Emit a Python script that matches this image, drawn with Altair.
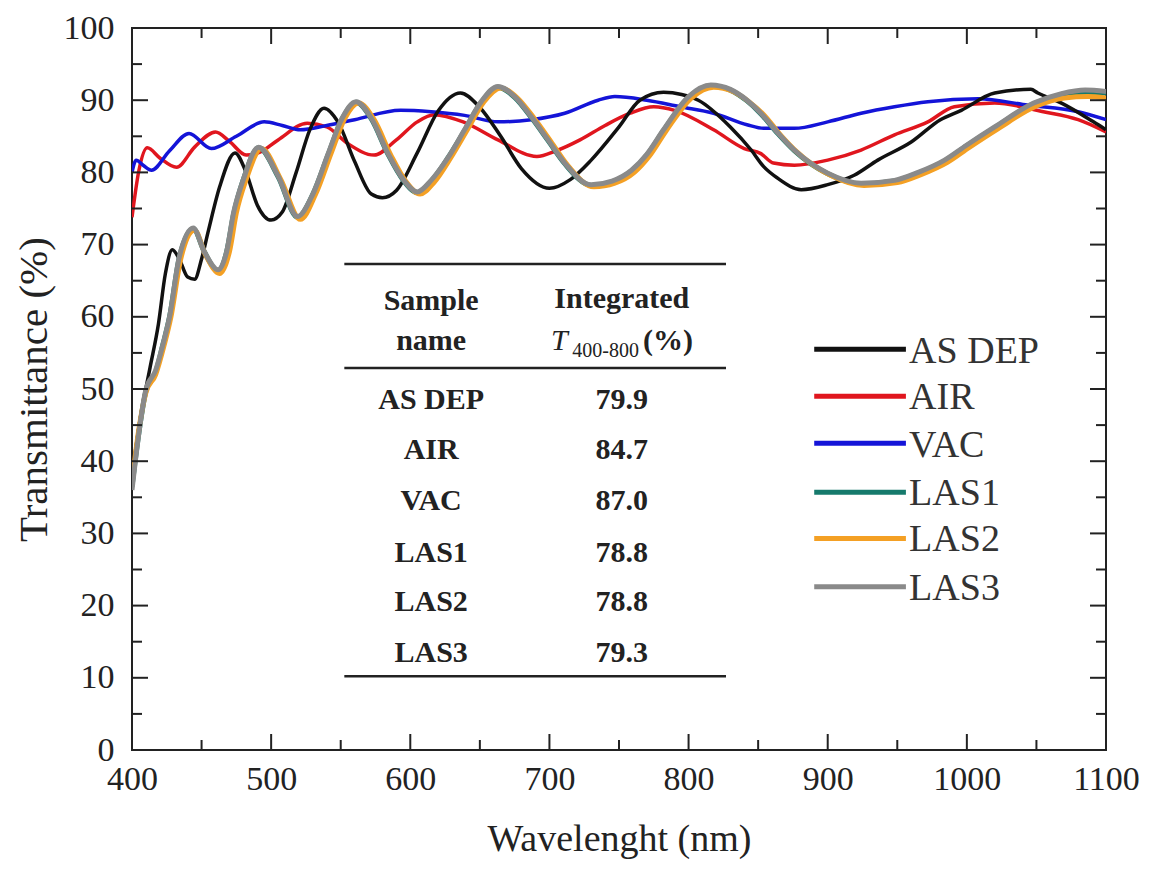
import altair as alt
import pandas as pd

# ---------------- data ----------------
SERIES = ["AS DEP", "AIR", "VAC", "LAS1", "LAS2", "LAS3"]
COLORS = ["#111111", "#e0161e", "#1414d8", "#167a6c", "#f4a024", "#8a8a8a"]

AS_DEP_WL = [400, 406, 413, 419, 424, 429, 434, 440, 445, 450, 455, 463, 474, 482, 490, 500, 508, 518, 528, 538,
             548, 560, 572, 580, 590, 605, 620, 636, 650, 665, 680, 700, 715, 730, 750, 765, 782, 795, 807, 830,
             845, 854, 864, 881, 900, 919, 936, 960, 981, 996, 1020, 1046, 1051, 1068, 1091, 1100]
AS_DEP_T = [38, 46, 53, 59, 66, 69.3, 68, 65.5, 65.2, 68, 72, 78, 82.7, 80, 75.5, 73.4, 74.5, 80, 86, 88.9,
            87, 81.5, 77, 76.5, 77.5, 82.7, 88.5, 91, 89, 85, 80.5, 77.8, 79, 81.7, 86.3, 90, 91.1, 90.8, 90, 86.3,
            83.1, 80.8, 79.2, 77.6, 78.3, 79.6, 81.7, 84.2, 87.3, 88.6, 91, 91.5, 91, 89.6, 87, 85.9]

AIR_WL = [400, 405, 411, 420, 432, 445, 460, 470, 482, 492, 505, 526, 540, 555, 574, 590, 605, 617, 638, 663,
          691, 705, 722, 740, 758, 775, 790, 818, 840, 852, 861, 876, 900, 924, 948, 972, 991, 1020, 1055, 1080, 1100]
AIR_T = [73.8, 80.3, 83.4, 82, 80.7, 83.5, 85.6, 84.3, 82.4, 82.8, 84.5, 86.8, 86.3, 84, 82.4, 84.5, 87, 88, 87, 84.5,
         82.2, 83, 84.5, 86.5, 88.2, 89.1, 88.6, 85.9, 83.3, 82.6, 81.3, 81, 81.7, 83.1, 85.2, 87, 89.1, 89.6, 88.4, 87.3, 85.6]

VAC_WL = [400, 403, 408, 414, 427, 441, 457, 475, 495, 508, 521, 540, 560, 593, 615, 639, 663, 687, 711, 735,
          747, 770, 794, 818, 842, 854, 876, 900, 924, 948, 972, 1008, 1044, 1080, 1100]
VAC_T = [80, 81.7, 81, 80.3, 83, 85.4, 83.3, 85, 87, 86.5, 85.9, 86.5, 87.3, 88.6, 88.4, 87.9, 87, 87.3, 88.2, 90,
         90.5, 90, 89.1, 88.2, 86.6, 86.1, 86.1, 87, 88.2, 89.1, 89.8, 90.2, 89.3, 88.4, 87.3]

LAS1_WL = [400, 405, 410, 417, 422, 427, 434, 444, 452, 462, 468, 473, 480, 491, 505, 519, 530, 541, 551, 561,
           572, 584, 595, 605, 615, 627, 639, 651, 663, 675, 687, 699, 711, 730, 745, 759, 770, 782, 800, 816,
           830, 842, 852, 864, 876, 900, 924, 948, 965, 984, 1000, 1020, 1048, 1068, 1085, 1100]
LAS1_T = [36.5, 44, 49.7, 52.3, 56, 60, 68.2, 72.2, 69, 66.3, 69, 74.2, 79, 83.4, 79.4, 73.8, 77, 82.5, 87.4, 89.7,
          87.4, 82.5, 78.9, 77.2, 78.8, 82, 85.8, 89.7, 91.8, 90.4, 87.6, 84.4, 81.2, 78.2, 78.7, 80.2, 82.4, 85.8, 90.4, 92,
          91.4, 89.9, 88.1, 85.4, 83, 79.8, 78.4, 78.8, 79.9, 81.6, 83.7, 86.2, 89.5, 90.7, 91.1, 91]

LAS2_WL = [400, 405, 410, 417, 423, 428, 435, 445, 453, 463, 470, 475, 482, 493, 507, 521, 532, 543, 553, 563,
           574, 586, 597, 607, 617, 629, 641, 653, 665, 677, 689, 701, 713, 732, 747, 761, 772, 784, 802, 818,
           832, 844, 854, 866, 878, 902, 926, 950, 967, 986, 1002, 1022, 1050, 1070, 1087, 1100]
LAS2_T = [37, 44.5, 49.5, 52, 56, 60, 68, 72, 68.5, 66, 69, 74.4, 79, 83.3, 79, 73.5, 77, 82.6, 87.5, 89.6,
          87.3, 82.4, 78.7, 77, 78.6, 82, 85.9, 89.8, 91.7, 90.3, 87.5, 84.3, 81, 78, 78.5, 80, 82.3, 85.8, 90.3, 91.8,
          91.2, 89.7, 88, 85.2, 82.8, 79.6, 78.2, 78.6, 79.7, 81.4, 83.5, 86, 89.2, 90.3, 90.5, 90.3]

LAS3_WL = [400, 405, 410, 417, 422, 427, 434, 444, 452, 462, 468, 473, 480, 491, 505, 519, 530, 541, 551, 561,
           572, 584, 595, 605, 615, 627, 639, 651, 663, 675, 687, 699, 711, 730, 745, 759, 770, 782, 800, 816,
           830, 842, 852, 864, 876, 900, 924, 948, 965, 984, 1000, 1020, 1048, 1068, 1085, 1100]
LAS3_T = [36, 44, 49.9, 52.6, 56, 60, 68.3, 72.3, 69, 66.5, 69, 74.4, 79, 83.5, 79.5, 73.9, 77, 82.6, 87.5, 89.8,
          87.5, 82.6, 79, 77.3, 78.9, 82, 85.9, 89.8, 91.9, 90.5, 87.7, 84.5, 81.3, 78.3, 78.8, 80.3, 82.5, 85.9, 90.5, 92.1,
          91.5, 90, 88.2, 85.5, 83.1, 79.9, 78.5, 78.9, 80, 81.7, 83.8, 86.3, 89.6, 90.9, 91.4, 91.2]

TABLE_NAMES = ["AS DEP", "AIR", "VAC", "LAS1", "LAS2", "LAS3"]
TABLE_VALUES = ["79.9", "84.7", "87.0", "78.8", "78.8", "79.3"]

X_MAJOR = [400, 500, 600, 700, 800, 900, 1000, 1100]
X_MINOR = [450, 550, 650, 750, 850, 950, 1050]
Y_MAJOR = [0, 10, 20, 30, 40, 50, 60, 70, 80, 90, 100]
Y_MINOR = [5, 15, 25, 35, 45, 55, 65, 75, 85, 95]

# ---------------- layout constants ----------------
W, H = 974, 722
FONT = "Liberation Serif"
TXT = "#222222"
WIDTHS = {"AS DEP": 3.5, "AIR": 3.5, "VAC": 3.5, "LAS1": 5, "LAS2": 5, "LAS3": 5}
DRAW_ORDER = ["AIR", "VAC", "AS DEP", "LAS1", "LAS2", "LAS3"]

# table layout (data units)
TAB_X0, TAB_X1 = 552.6, 826.9
TAB_RULES_Y = [67.3, 52.9, 10.2]
TAB_COL1, TAB_COL2 = 615, 752
TAB_ROWS_Y = [47.2, 40.3, 33.2, 26.1, 19.2, 12.2]
# legend layout (data units)
LEG_X0, LEG_X1, LEG_LX = 890.3, 956.2, 958.5
LEG_SYM_Y = [55.5, 49.0, 42.5, 35.7, 29.3, 22.6]
LEG_LAB_Y = [53.6, 47.2, 40.6, 33.9, 27.5, 20.8]

data_map = {
    "AS DEP": (AS_DEP_WL, AS_DEP_T), "AIR": (AIR_WL, AIR_T), "VAC": (VAC_WL, VAC_T),
    "LAS1": (LAS1_WL, LAS1_T), "LAS2": (LAS2_WL, LAS2_T), "LAS3": (LAS3_WL, LAS3_T),
}
rows = []
for s, (wl, t) in data_map.items():
    for w, v in zip(wl, t):
        rows.append({"series": s, "wl": w, "T": v})
df = pd.DataFrame(rows)

xs = alt.Scale(domain=[400, 1100], nice=False, zero=False)
ys = alt.Scale(domain=[0, 100], nice=False, zero=False)
AXCOMMON = dict(grid=False, ticks=False, domain=False, labelFlush=False, labelOverlap=False,
                labelFont=FONT, labelFontSize=34, labelColor=TXT,
                titleFont=FONT, titleFontWeight="normal", titleColor=TXT, format="d")
XAX = alt.Axis(values=X_MAJOR, title="Wavelenght (nm)", labelPadding=12, titlePadding=24,
               titleFontSize=38, **AXCOMMON)
YAX = alt.Axis(values=Y_MAJOR, title="Transmittance (%)", labelPadding=18, titlePadding=8,
               titleFontSize=41, **AXCOMMON)

layers = []
color_of = dict(zip(SERIES, COLORS))
for s in DRAW_ORDER:
    layers.append(
        alt.Chart(df).transform_filter(alt.datum.series == s)
        .mark_line(color=color_of[s], strokeWidth=WIDTHS[s], interpolate="monotone", clip=True)
        .encode(x=alt.X("wl:Q", scale=xs, axis=XAX), y=alt.Y("T:Q", scale=ys, axis=YAX))
    )

# inward ticks
def xticks(vals, length):
    d = pd.DataFrame({"wl": vals})
    b = alt.Chart(d).mark_rule(color="#222", strokeWidth=2).encode(
        x=alt.X("wl:Q", scale=xs, axis=XAX), y=alt.value(H), y2=alt.value(H - length))
    t = alt.Chart(d).mark_rule(color="#222", strokeWidth=2).encode(
        x=alt.X("wl:Q", scale=xs, axis=XAX), y=alt.value(0), y2=alt.value(length))
    return [b, t]

def yticks(vals, length):
    d = pd.DataFrame({"T": vals})
    l = alt.Chart(d).mark_rule(color="#222", strokeWidth=2).encode(
        y=alt.Y("T:Q", scale=ys, axis=YAX), x=alt.value(0), x2=alt.value(length))
    r = alt.Chart(d).mark_rule(color="#222", strokeWidth=2).encode(
        y=alt.Y("T:Q", scale=ys, axis=YAX), x=alt.value(W - length), x2=alt.value(W))
    return [l, r]

layers += xticks(X_MAJOR, 16) + xticks(X_MINOR, 10) + yticks(Y_MAJOR, 16) + yticks(Y_MINOR, 10)

# table
rules_df = pd.DataFrame({"x0": [TAB_X0] * 3, "x1": [TAB_X1] * 3, "T": TAB_RULES_Y})
layers.append(alt.Chart(rules_df).mark_rule(color="#222", strokeWidth=2.5).encode(
    x=alt.X("x0:Q", scale=xs, axis=XAX), x2="x1:Q", y=alt.Y("T:Q", scale=ys, axis=YAX)))

tab_df = pd.DataFrame({"name": TABLE_NAMES, "val": TABLE_VALUES, "T": TAB_ROWS_Y,
                       "c1": [TAB_COL1] * 6, "c2": [TAB_COL2] * 6})
bold = dict(font=FONT, fontSize=30, fontWeight="bold", color=TXT, baseline="alphabetic", align="center")
layers.append(alt.Chart(tab_df).mark_text(**bold).encode(
    x=alt.X("c1:Q", scale=xs, axis=XAX), y=alt.Y("T:Q", scale=ys, axis=YAX), text="name:N"))
layers.append(alt.Chart(tab_df).mark_text(**bold).encode(
    x=alt.X("c2:Q", scale=xs, axis=XAX), y=alt.Y("T:Q", scale=ys, axis=YAX), text="val:N"))

hdr_df = pd.DataFrame({
    "txt": ["Sample", "name", "Integrated"],
    "x": [TAB_COL1, TAB_COL1, TAB_COL2],
    "T": [61.0, 55.4, 61.2],
})
layers.append(alt.Chart(hdr_df).mark_text(**bold).encode(
    x=alt.X("x:Q", scale=xs, axis=XAX), y=alt.Y("T:Q", scale=ys, axis=YAX), text="txt:N"))

sub_parts = [
    ("T", 701.1, 55.4, 30, "normal", "italic"),
    ("400-800", 716.4, 54.5, 20, "normal", "normal"),
    ("(%)", 767.2, 55.4, 30, "bold", "normal"),
]
for txt, xv, tv, fs, fw, fst in sub_parts:
    d = pd.DataFrame({"x": [xv], "T": [tv], "txt": [txt]})
    layers.append(alt.Chart(d).mark_text(font=FONT, fontSize=fs, fontWeight=fw, fontStyle=fst, color=TXT,
                                         baseline="alphabetic", align="left").encode(
        x=alt.X("x:Q", scale=xs, axis=XAX), y=alt.Y("T:Q", scale=ys, axis=YAX), text="txt:N"))

# legend (manual)
leg_df = pd.DataFrame({"series": SERIES, "x0": [LEG_X0] * 6, "x1": [LEG_X1] * 6, "xl": [LEG_LX] * 6,
                       "ys": LEG_SYM_Y, "yl": LEG_LAB_Y})
layers.append(alt.Chart(leg_df).mark_rule(strokeWidth=5).encode(
    x=alt.X("x0:Q", scale=xs, axis=XAX), x2="x1:Q", y=alt.Y("ys:Q", scale=ys, axis=YAX),
    color=alt.Color("series:N", scale=alt.Scale(domain=SERIES, range=COLORS), legend=None)))
layers.append(alt.Chart(leg_df).mark_text(font=FONT, fontSize=38, color="#333333", align="left",
                                          baseline="alphabetic").encode(
    x=alt.X("xl:Q", scale=xs, axis=XAX), y=alt.Y("yl:Q", scale=ys, axis=YAX), text="series:N"))

chart = alt.layer(*layers).properties(
    width=W, height=H, padding={"left": 5, "top": 3, "right": 5, "bottom": 2}, background="white"
).configure_view(stroke="#222", strokeWidth=2)

chart.save("out.html", embed_options={"renderer": "svg", "actions": False})
